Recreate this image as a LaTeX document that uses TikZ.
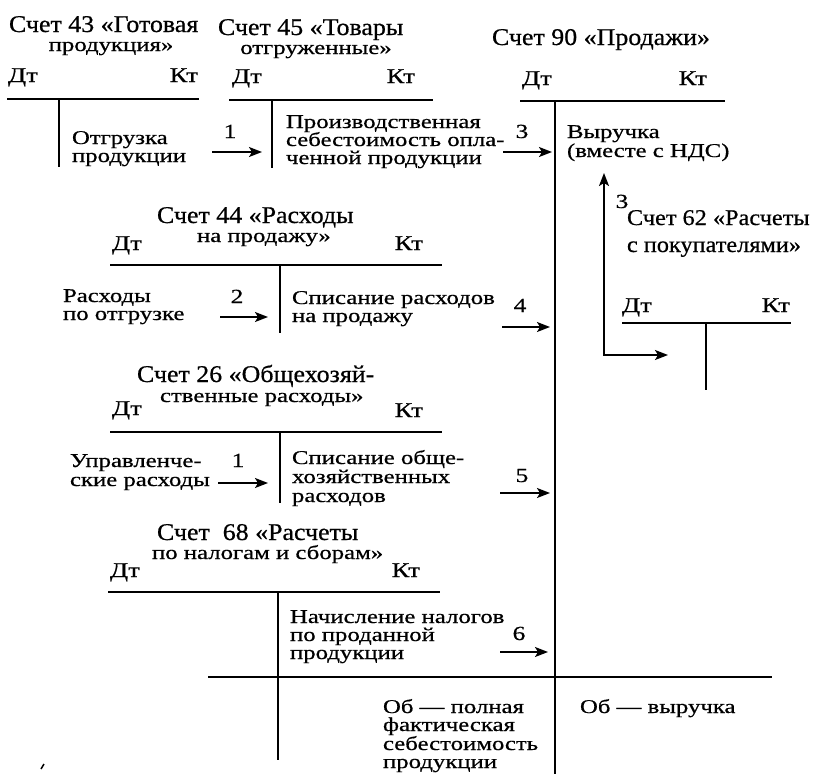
\documentclass[tikz,border=0pt]{standalone}
\usepackage{fontspec}
\setmainfont{Liberation Serif}
\newfontfamily\bodyf[FakeStretch=1.27,FakeBold=0.6]{Liberation Serif}
\newfontfamily\headf[FakeStretch=1.08,FakeBold=0.6]{Liberation Serif}
\usetikzlibrary{arrows.meta}
\begin{document}
\begin{tikzpicture}[x=1pt,y=-1pt,
  tl/.style={line width=2.2pt},
  arr/.style={line width=1.6pt,-{Stealth[length=13pt,width=10pt,inset=3pt]}},
  bt/.style={inner sep=0pt,outer sep=0pt,anchor=base west,text depth=1.5pt,font=\bodyf\fontsize{19.5}{19.5}\selectfont},
  ht/.style={inner sep=0pt,outer sep=0pt,anchor=base west,text depth=1.5pt,font=\headf\fontsize{24}{24}\selectfont},
  hts/.style={ht,font=\headf\fontsize{22.5}{22.5}\selectfont},
  dk/.style={inner sep=0pt,outer sep=0pt,anchor=base west,font=\bodyf\fontsize{21}{21}\selectfont},
  dkr/.style={dk,anchor=base east},
  num/.style={inner sep=0pt,outer sep=0pt,anchor=base,font=\bodyf\fontsize{20}{20}\selectfont}]
\useasboundingbox (0,0) rectangle (815,774);

% ---- Account 43
\node[ht] (h43a) at (9,32) {Счет 43 «Готовая};
\node[bt,anchor=base] (h43b) at (111,51) {продукция»};
\node[dk] (d43) at (8,82) {Дт};
\node[dkr] (k43) at (198,82) {Кт};
\draw[tl] (7,99) -- (199,99) (59,99) -- (59,167);
\node[bt] (t43a) at (72,144) {Отгрузка};
\node[bt] (t43b) at (72,162) {продукции};

% ---- Account 45
\node[ht] (h45a) at (218,35) {Счет 45 «Товары};
\node[bt,anchor=base] (h45b) at (316,54) {отгруженные»};
\node[dk] (d45) at (232,83) {Дт};
\node[dkr] (k45) at (415,83) {Кт};
\draw[tl] (229,100) -- (433,100) (272,100) -- (272,168);
\node[bt] (t45a) at (286,128) {Производственная};
\node[bt] (t45b) at (286,146) {себестоимость опла-};
\node[bt] (t45c) at (286,164) {ченной продукции};

% ---- Account 90
\node[ht] (h90) at (492,45) {Счет 90 «Продажи»};
\node[dk] (d90) at (522,85) {Дт};
\node[dkr] (k90) at (707,85) {Кт};
\draw[tl] (520,101) -- (725,101) (555,101) -- (555,774);
\node[bt] (t90a) at (567,138) {Выручка};
\node[bt] (t90b) at (567,157) {(вместе с НДС)};

% ---- Account 62
\node[hts] (h62a) at (627,225) {Счет 62 «Расчеты};
\node[hts] (h62b) at (627,252) {с покупателями»};
\node[dk] (d62) at (622,312) {Дт};
\node[dkr] (k62) at (790,312) {Кт};
\draw[tl] (622,323) -- (791,323) (706,323) -- (706,390);

% ---- Account 44
\node[ht] (h44a) at (157,223) {Счет 44 «Расходы};
\node[bt] (h44b) at (197,242) {на продажу»};
\node[dk] (d44) at (112,250) {Дт};
\node[dkr] (k44) at (423,250) {Кт};
\draw[tl] (110,265) -- (442,265) (280,265) -- (280,333);
\node[bt] (l44a) at (63,302) {Расходы};
\node[bt] (l44b) at (63,320) {по отгрузке};
\node[bt] (t44a) at (292,304) {Списание расходов};
\node[bt] (t44b) at (292,322) {на продажу};

% ---- Account 26
\node[ht] (h26a) at (137,382) {Счет 26 «Общехозяй-};
\node[bt] (h26b) at (160,402) {ственные расходы»};
\node[dk] (d26) at (112,415) {Дт};
\node[dkr] (k26) at (423,417) {Кт};
\draw[tl] (110,432) -- (442,432) (280,432) -- (280,503);
\node[bt] (l26a) at (70,467) {Управленче-};
\node[bt] (l26b) at (70,486) {ские расходы};
\node[bt] (t26a) at (292,464) {Списание обще-};
\node[bt] (t26b) at (292,483) {хозяйственных};
\node[bt] (t26c) at (292,502) {расходов};

% ---- Account 68
\node[ht] (h68a) at (157,540) {Счет~~68 «Расчеты};
\node[bt] (h68b) at (152,559) {по налогам и сборам»};
\node[dk] (d68) at (110,577) {Дт};
\node[dkr] (k68) at (420,577) {Кт};
\draw[tl] (108,592) -- (440,592) (278,592) -- (278,760);
\node[bt] (t68a) at (290,623) {Начисление налогов};
\node[bt] (t68b) at (290,641) {по проданной};
\node[bt] (t68c) at (290,659) {продукции};

% ---- Bottom
\draw[tl] (208,677) -- (772,677);
\node[bt] (ob1) at (383,713) {Об — полная};
\node[bt] (ob2) at (383,731) {фактическая};
\node[bt] (ob3) at (383,750) {себестоимость};
\node[bt] (ob4) at (383,768) {продукции};
\node[bt] (ob5) at (580,713) {Об — выручка};
\draw[line width=1.5pt] (41,769) -- (44,764);

% ---- Arrows
\coordinate (a1s) at (212,152); \coordinate (a1e) at (262,152);
\coordinate (a3s) at (503,152); \coordinate (a3e) at (552,152);
\coordinate (a2s) at (220,317); \coordinate (a2e) at (268,317);
\coordinate (a4s) at (502,327); \coordinate (a4e) at (550,327);
\coordinate (b1s) at (218,483); \coordinate (b1e) at (268,483);
\coordinate (a5s) at (500,493); \coordinate (a5e) at (550,493);
\coordinate (a6s) at (500,652); \coordinate (a6e) at (548,652);
\coordinate (upt) at (604,173); \coordinate (rgt) at (668,355);
\draw[arr] (a1s) -- (a1e);
\draw[arr] (a3s) -- (a3e);
\draw[arr] (a2s) -- (a2e);
\draw[arr] (a4s) -- (a4e);
\draw[arr] (b1s) -- (b1e);
\draw[arr] (a5s) -- (a5e);
\draw[arr] (a6s) -- (a6e);
\draw[line width=1.6pt,{Stealth[length=13pt,width=10pt,inset=3pt]}-{Stealth[length=13pt,width=10pt,inset=3pt]}] (upt) |- (rgt);

\node[num] (n1) at (230,138) {1};
\node[num] (n3) at (522,138) {3};
\node[num] (n2) at (237,303) {2};
\node[num] (n4) at (520,312) {4};
\node[num] (n1b) at (238,467) {1};
\node[num] (n5) at (522,482) {5};
\node[num] (n6) at (519,640) {6};
\node[num] (n3b) at (622,208) {3};
\end{tikzpicture}
\end{document}
